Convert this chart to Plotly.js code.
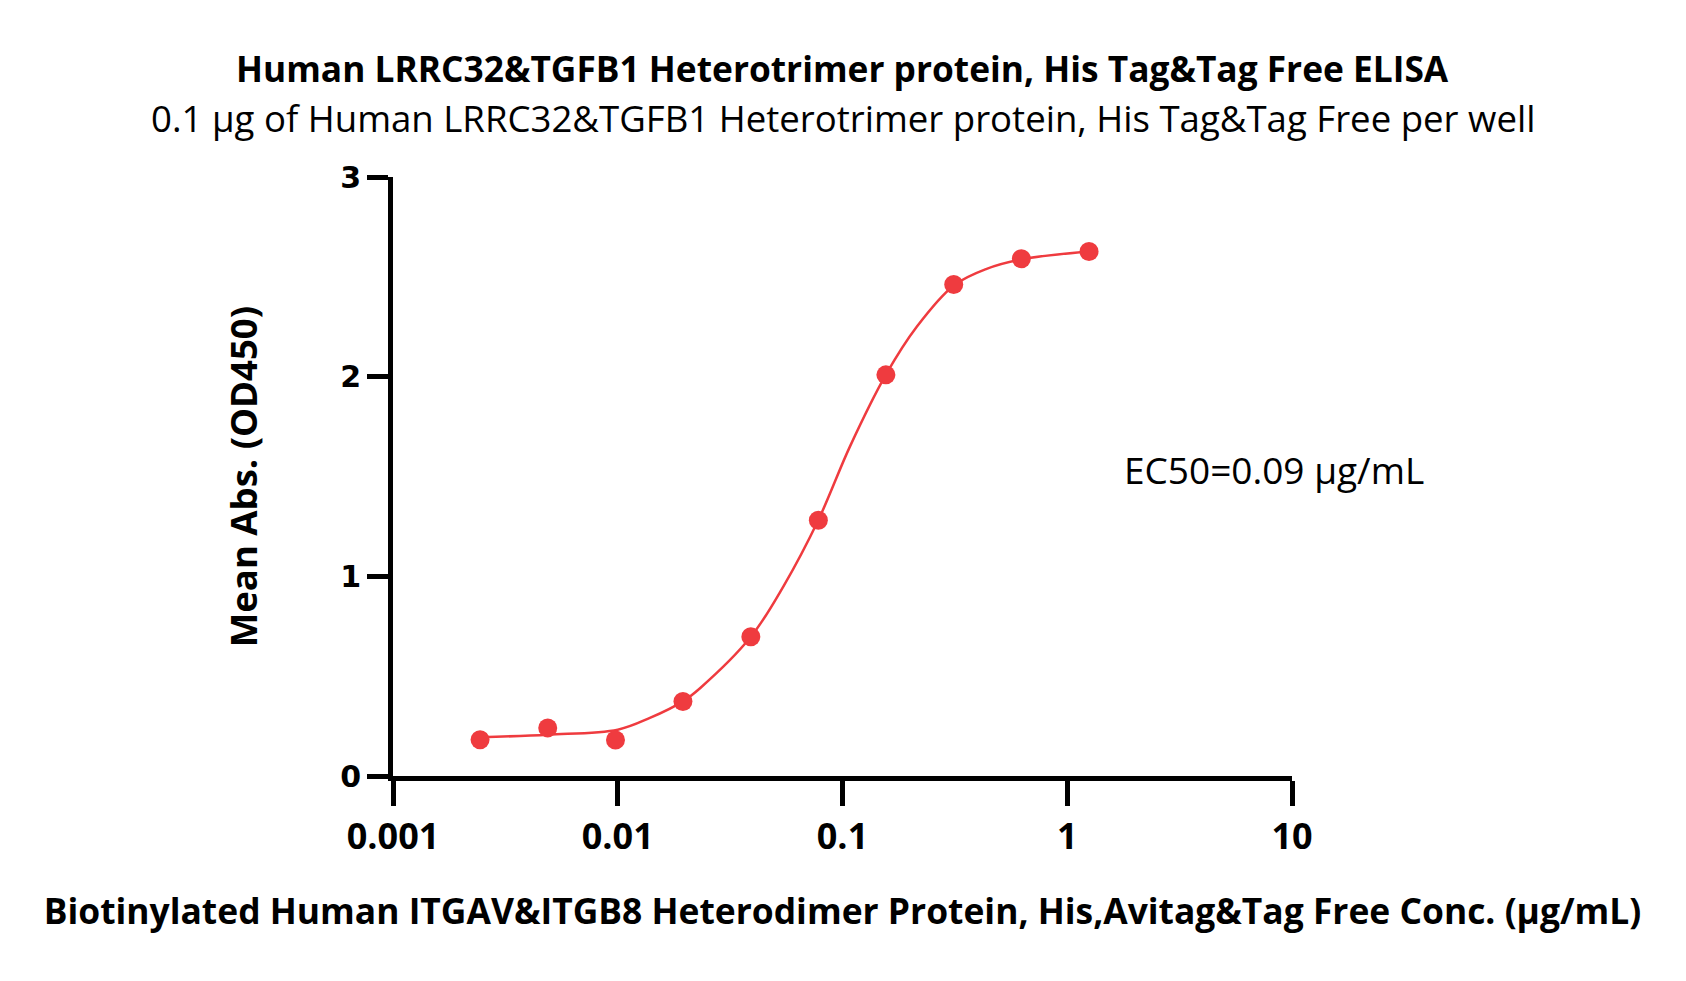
<!DOCTYPE html>
<html>
<head>
<meta charset="utf-8">
<script src="https://cdn.plot.ly/plotly-3.0.1.min.js"></script>
<style>html,body{margin:0;padding:0;background:#fff;}#chart{width:1686px;height:981px;}</style>
</head>
<body>
<div id="chart"></div>
<script>
// Measured points (concentration in µg/mL, mean absorbance OD450)
const concentrations = [0.00244, 0.00488, 0.00977, 0.0195, 0.0391, 0.0781, 0.156, 0.3125, 0.625, 1.25];
const meanAbs = [0.182, 0.241, 0.180, 0.373, 0.697, 1.281, 2.009, 2.462, 2.591, 2.627];

// Fitted curve
const curveConc = [0.00245, 0.0049, 0.01, 0.0139, 0.0195, 0.0233, 0.0391, 0.0546, 0.078, 0.108, 0.156, 0.214, 0.314, 0.438, 0.628, 1.25];
const curveAbs  = [0.194, 0.207, 0.232, 0.291, 0.374, 0.441, 0.697, 0.950, 1.281, 1.651, 2.010, 2.250, 2.458, 2.540, 2.588, 2.627];

const xTickVals = [0.001, 0.01, 0.1, 1, 10];
const xTickText = ["0.001", "0.01", "0.1", "1", "10"];
const yTickVals = [0, 1, 2, 3];
const yTickText = ["0", "1", "2", "3"];

const titleText = "Human LRRC32&TGFB1 Heterotrimer protein, His Tag&Tag Free ELISA";
const subtitleText = "0.1 µg of Human LRRC32&TGFB1 Heterotrimer protein, His Tag&Tag Free per well";
const xTitleText = "Biotinylated Human ITGAV&ITGB8 Heterodimer Protein, His,Avitag&Tag Free Conc. (µg/mL)";
const yTitleText = "Mean Abs. (OD450)";
const ec50Text = "EC50=0.09 µg/mL";

const red = "#ef3b3f";
const sans = "Open Sans, sans-serif";

const traces = [
  {x: curveConc, y: curveAbs, mode: "lines", type: "scatter",
   line: {color: red, width: 2.5, shape: "spline", smoothing: 1}, hoverinfo: "skip", showlegend: false},
  {x: concentrations, y: meanAbs, mode: "markers", type: "scatter",
   marker: {color: red, size: 19}, showlegend: false}
];

const layout = {
  width: 1686, height: 981,
  margin: {l: 392.5, r: 393.5, t: 177.4, b: 204.6},
  paper_bgcolor: "#fff", plot_bgcolor: "#fff",
  showlegend: false,
  xaxis: {
    type: "log", range: [-3, 1], tickvals: xTickVals, ticktext: xTickText,
    showgrid: false, zeroline: false, showline: true, linecolor: "#000", linewidth: 5,
    ticks: "outside", ticklen: 25, tickwidth: 5, tickcolor: "#000",
    tickfont: {family: sans, size: 36, color: "#000", weight: "bold"},
    title: {text: xTitleText, standoff: 42, font: {family: sans, size: 35.4, color: "#000", weight: "bold"}}
  },
  yaxis: {
    range: [0, 3], tickvals: yTickVals, ticktext: yTickText,
    showgrid: false, zeroline: false, showline: true, linecolor: "#000", linewidth: 5,
    ticks: "outside", ticklen: 21, tickwidth: 5, tickcolor: "#000",
    tickfont: {family: "DejaVu Sans, sans-serif", size: 30, color: "#000", weight: "bold"},
    title: {text: yTitleText, standoff: 73, font: {family: sans, size: 36.5, color: "#000", weight: "bold"}}
  },
  annotations: [
    {text: "<b>" + titleText + "</b>", xref: "paper", yref: "paper", x: 0.5, y: 1.1826, xanchor: "center", yanchor: "middle",
     showarrow: false, font: {family: sans, size: 35.3, color: "#000"}},
    {text: subtitleText, xref: "paper", yref: "paper", x: 0.5, y: 1.0992, xanchor: "center", yanchor: "middle",
     showarrow: false, font: {family: sans, size: 36.6, color: "#000"}},
    {text: ec50Text, xref: "paper", yref: "paper", x: 0.98, y: 0.5115, xanchor: "center", yanchor: "middle",
     showarrow: false, font: {family: sans, size: 37, color: "#000"}}
  ]
};

Plotly.newPlot("chart", traces, layout, {displayModeBar: false, staticPlot: true});
</script>
</body>
</html>
